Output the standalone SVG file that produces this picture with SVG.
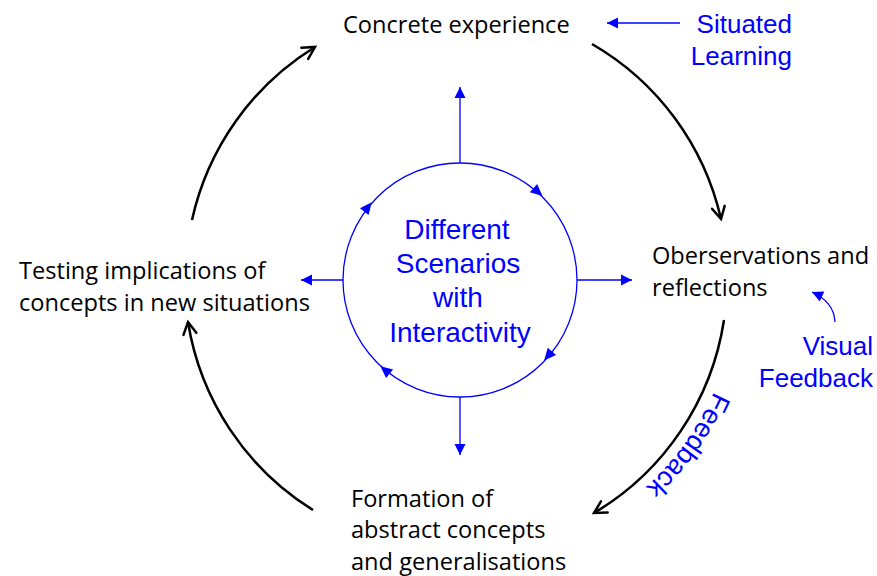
<svg xmlns="http://www.w3.org/2000/svg" width="877" height="576" viewBox="0 0 877 576">
  <defs>
    <style>
      .stage { font-family: "Open Sans", "Liberation Sans", sans-serif; font-size: 23.6px; fill: #000; }
      .blue { font-family: "Liberation Sans", Arial, sans-serif; font-size: 26px; fill: #0000ff; }
      .arcLabel { font-family: "Liberation Sans", Arial, sans-serif; font-size: 27px; fill: #0000ff; }
      .core { font-family: "Liberation Sans", Arial, sans-serif; font-size: 28px; fill: #0000ff; text-anchor: middle; }
      .cycle { fill: none; stroke: #000; stroke-width: 2.5; marker-end: url(#chevron); }
      .bline { fill: none; stroke: #0000ff; stroke-width: 1.3; }
      .barrow { fill: none; stroke: #0000ff; stroke-width: 1.3; marker-end: url(#tri); }
    </style>
    <marker id="chevron" markerUnits="userSpaceOnUse" markerWidth="30" markerHeight="30" viewBox="-15 -15 30 30" refX="0" refY="0" orient="auto" overflow="visible">
      <path d="M-12,-6.5 L0,0 L-12,6.5" fill="none" stroke="#000" stroke-width="2.5" stroke-linecap="round" stroke-linejoin="miter"/>
    </marker>
    <marker id="tri" markerUnits="userSpaceOnUse" markerWidth="20" markerHeight="20" viewBox="-15 -10 20 20" refX="0" refY="0" orient="auto" overflow="visible">
      <path d="M0,0 L-11,-5.5 L-11,5.5 Z" fill="#0000ff"/>
    </marker>
    <path id="flowHead" d="M6,0 L-6,-5.5 L-6,5.5 Z" fill="#0000ff"/>
    <path id="feedbackArc" d="M720.9,374.8 A283,283 0 0 1 596.5,523.1" fill="none"/>
  </defs>

  <!-- outer learning cycle -->
  <g id="connectors">
    <path class="cycle" d="M592,44 A272,272 0 0 1 721,219"/>
    <path class="cycle" d="M724,320 A272,272 0 0 1 594,513"/>
    <path class="cycle" d="M313,510 A272,272 0 0 1 188,322"/>
    <path class="cycle" d="M192,220 A272,272 0 0 1 315,47"/>

    <!-- spokes from the central hub -->
    <line class="barrow" x1="460" y1="163" x2="460" y2="87"/>
    <line class="barrow" x1="460" y1="397" x2="460" y2="455"/>
    <line class="barrow" x1="343" y1="280" x2="301" y2="280"/>
    <line class="barrow" x1="577" y1="280" x2="632" y2="280"/>

    <!-- side annotations -->
    <line class="barrow" x1="680" y1="23" x2="607" y2="23"/>
    <path class="barrow" d="M835,322 Q834,302 812,292"/>
  </g>

  <!-- central hub -->
  <g id="hub">
    <circle class="bline" cx="460" cy="280" r="117"/>
    <use href="#flowHead" transform="translate(538,192) rotate(41.5)"/>
    <use href="#flowHead" transform="translate(548,356) rotate(130.8)"/>
    <use href="#flowHead" transform="translate(385,370) rotate(219.8)"/>
    <use href="#flowHead" transform="translate(368,207) rotate(308.4)"/>
    <text class="core" x="457" y="239">Different</text>
    <text class="core" x="458" y="273">Scenarios</text>
    <text class="core" x="458" y="307">with</text>
    <text class="core" x="460" y="342">Interactivity</text>
  </g>

  <g id="concrete-experience">
    <text class="stage" x="343" y="33">Concrete experience</text>
  </g>
  <g id="observations">
    <text class="stage" x="652" y="264">Oberservations and</text>
    <text class="stage" x="652" y="296">reflections</text>
  </g>
  <g id="abstract-concepts">
    <text class="stage" x="351" y="507">Formation of</text>
    <text class="stage" x="351" y="538">abstract concepts</text>
    <text class="stage" x="351" y="570">and generalisations</text>
  </g>
  <g id="testing">
    <text class="stage" x="19" y="279">Testing implications of</text>
    <text class="stage" x="19" y="311">concepts in new situations</text>
  </g>

  <g id="situated-learning">
    <text class="blue" x="792" y="33" text-anchor="end">Situated</text>
    <text class="blue" x="792" y="65" text-anchor="end">Learning</text>
  </g>
  <g id="visual-feedback">
    <text class="blue" x="873" y="355" text-anchor="end">Visual</text>
    <text class="blue" x="873" y="387" text-anchor="end">Feedback</text>
  </g>
  <g id="feedback-label">
    <text class="arcLabel"><textPath href="#feedbackArc" startOffset="18">Feedback</textPath></text>
  </g>
</svg>
